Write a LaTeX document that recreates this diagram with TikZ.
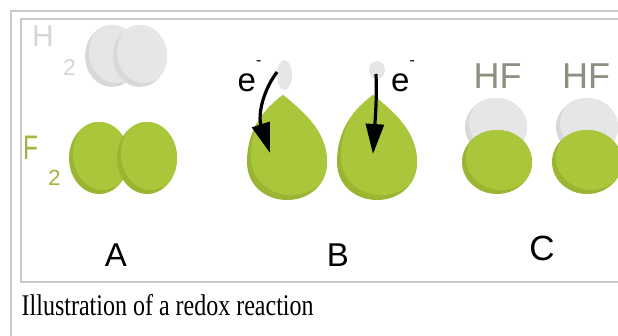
\documentclass[tikz,border=0pt]{standalone}
\usepackage{fontspec}
\setmainfont{Liberation Sans}
\newfontfamily\capfont{Liberation Serif}
\usetikzlibrary{arrows.meta}

\definecolor{framegray}{HTML}{C9C9C9}
\definecolor{fgreen}{HTML}{AAC63A}
\definecolor{fgreendark}{HTML}{9BB432}
\definecolor{hgray}{HTML}{E6E6E7}
\definecolor{hgraydark}{HTML}{D8D8DA}
\definecolor{hflabel}{HTML}{8C9080}
\definecolor{h2label}{HTML}{D6D6D6}
\definecolor{f2label}{HTML}{9DB83C}

% shaded atom: dark base with a lighter body shifted up-right
\newcommand\atomball[6]{%
  \fill[#5] (#1,#2) ellipse [x radius=#3, y radius=#4];
  \begin{scope}
    \clip (#1,#2) ellipse [x radius=#3, y radius=#4];
    \fill[#6] ({#1+4},{#2-4}) ellipse [x radius=#3, y radius=#4];
  \end{scope}}

% teardrop outline around the origin (centre of the round part)
\newcommand\droppath{(-4,-65) .. controls (-24,-50) and (-40,-30) .. (-40,2)
  .. controls (-40,25) and (-22,40) .. (0,40)
  .. controls (22,40) and (40,25) .. (40,2)
  .. controls (40,-30) and (14,-50) .. (-4,-65) -- cycle}

\tikzset{
  frameline/.style={draw=framegray, line width=2pt},
  letter/.style={inner sep=0pt, font=\fontsize{33}{33}\selectfont},
  hflbl/.style={inner sep=0pt, text=hflabel, font=\fontsize{36}{36}\selectfont},
  elbl/.style={inner sep=0pt, anchor=base west, font=\fontsize{33}{33}\selectfont},
  etransfer/.style={line width=3.2pt, -{Triangle[length=30pt,width=18pt]}},
}

\newcommand\eminus{\raisebox{26pt}{\fontsize{16}{16}\selectfont -}}

\begin{document}
\begin{tikzpicture}[x=1pt,y=-1pt]
\useasboundingbox (0,0) rectangle (618,336);
\fill[white] (0,0) rectangle (618,336);

% thumbnail frames
\draw[frameline] (10.5,340) -- (10.5,11.5) -- (622,11.5);
\draw[frameline] (622,19.5) -- (20.5,19.5) -- (20.5,282) -- (622,282);

% ---- A: H2 and F2 ----
\atomball{112}{56}{27}{31}{hgraydark}{hgray}
\atomball{140}{56}{27}{31}{hgraydark}{hgray}
\node[inner sep=0pt, text=h2label, font=\fontsize{30}{30}\selectfont] (h2H) at (43,36) {H};
\node[inner sep=0pt, text=h2label, font=\fontsize{23}{23}\selectfont] (h2sub) at (69.5,67) {2};

\atomball{99}{158}{30}{36}{fgreendark}{fgreen}
\atomball{147}{158}{30}{36}{fgreendark}{fgreen}
\node[inner sep=0pt, text=f2label, font=\fontsize{34}{34}\selectfont] (f2F) at (30.5,147.5) {\scalebox{0.72}[1]{F}};
\node[inner sep=0pt, text=f2label, font=\fontsize{22}{22}\selectfont] (f2sub) at (54.5,178) {2};

\node[letter] (labA) at (116,255) {A};

% ---- B: electrons moving to fluorine ----
\fill[hgray] (284.5,75) ellipse [x radius=7.5, y radius=15];
\fill[hgray] (377,70) ellipse [x radius=8, y radius=9];

\begin{scope}[shift={(287,160)}]
  \fill[fgreendark] \droppath;
  \begin{scope}
    \clip \droppath;
    \fill[fgreen, shift={(4,-5)}] \droppath;
  \end{scope}
\end{scope}
\begin{scope}[shift={(377,160)}]
  \fill[fgreendark] \droppath;
  \begin{scope}
    \clip \droppath;
    \fill[fgreen, shift={(4,-5)}] \droppath;
  \end{scope}
\end{scope}

\coordinate (eStartL) at (277,72);
\coordinate (eEndL) at (270,153);
\coordinate (eStartR) at (376,74);
\coordinate (eEndR) at (373,154);
\draw[etransfer] (eStartL) .. controls (262,92) and (258,116) .. (eEndL);
\draw[etransfer] (eStartR) .. controls (377,100) and (375,122) .. (eEndR);

\node[elbl] (eL) at (237.5,92) {e\eminus};
\node[elbl] (eR) at (391,92) {e\eminus};

\node[letter] (labB) at (338,255) {B};

% ---- C: two HF molecules ----
\atomball{496}{127}{31}{29}{hgraydark}{hgray}
\atomball{497}{162}{35}{32}{fgreendark}{fgreen}
\atomball{587}{127}{31}{29}{hgraydark}{hgray}
\atomball{587}{162}{35}{32}{fgreendark}{fgreen}

\node[hflbl] (hf1) at (497.5,76) {HF};
\node[hflbl] (hf2) at (586,76) {HF};

\node[letter, font=\fontsize{35}{35}\selectfont] (labC) at (542,248) {C};

% ---- caption ----
\node[inner sep=0pt, anchor=base west, font=\capfont\fontsize{24}{24}\selectfont] (caption) at (21.5,315.5)
  {\scalebox{1}[1.25]{Illustration of a redox reaction}};
\end{tikzpicture}
\end{document}
